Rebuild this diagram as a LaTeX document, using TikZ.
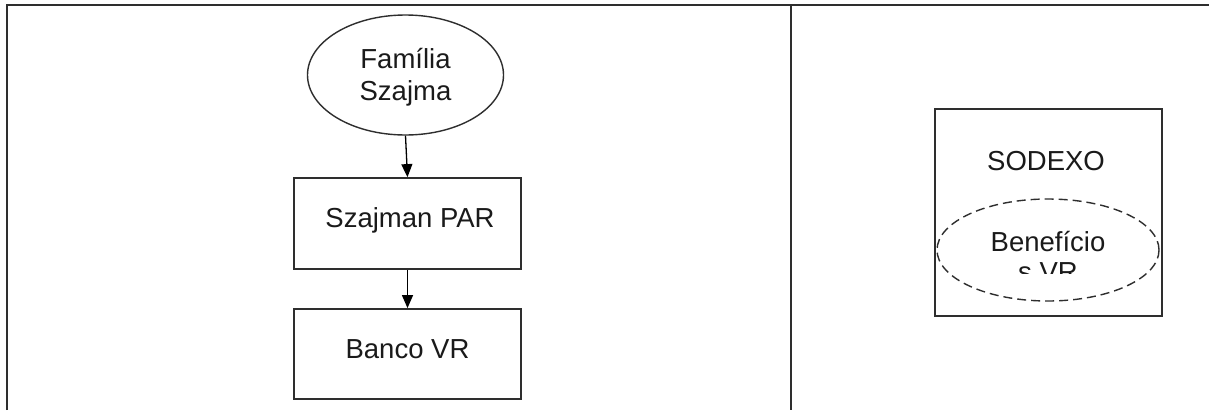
\documentclass[tikz,border=0pt]{standalone}
\usepackage{fontspec}
\setmainfont{Liberation Sans}
\usetikzlibrary{shapes.geometric,arrows.meta}
\definecolor{linec}{HTML}{2E2E2E}
\definecolor{textc}{HTML}{1A1A1A}
\begin{document}
\begin{tikzpicture}[x=1pt,y=-1pt,
  frameline/.style={draw=linec,line width=2.2pt},
  boxnode/.style={draw=linec,line width=1.8pt,rectangle,minimum width=227pt,inner sep=0pt},
  ovalnode/.style={draw=linec,line width=1.4pt,ellipse,inner sep=0pt},
  txt/.style={text=textc,font=\fontsize{27.5}{33}\selectfont,inner sep=0pt},
  flow/.style={draw=black,line width=1.3pt,-{Triangle[length=13pt,width=11pt]}}]
\useasboundingbox (0,0) rectangle (1209,410);
\fill[white] (0,0) rectangle (1209,410);
% frame
\coordinate (tl) at (7,5);
\coordinate (tr) at (1209,5);
\coordinate (bl) at (7,410);
\coordinate (mt) at (791,5);
\coordinate (mb) at (791,410);
\draw[frameline] (bl) -- (tl) -- (tr);
\draw[frameline] (mt) -- (mb);
% left flow
\node[ovalnode,minimum width=196pt,minimum height=120pt] (fam) at (405.5,75) {};
\node[txt,anchor=base] (famt1) at (405.5,68) {Família};
\node[txt,anchor=base] (famt2) at (405.5,100) {Szajma};
\node[boxnode,minimum height=91pt] (par) at (407.5,223.5) {};
\node[txt,anchor=base] (part) at (410,227) {Szajman PAR};
\node[boxnode,minimum height=90pt] (banco) at (407.5,354) {};
\node[txt,anchor=base] (bancot) at (407.5,358) {Banco VR};
\draw[flow] (fam.south) -- (par.north);
\draw[flow] (par.south) -- (banco.north);
% right
\node[boxnode,minimum height=207pt] (sod) at (1048.5,212.5) {};
\node[txt,anchor=base] (sodt) at (1046,170) {SODEXO};
\node[ovalnode,dashed,dash pattern=on 9pt off 5pt,minimum width=222pt,minimum height=102pt] (ben) at (1048,250) {};
\node[txt,anchor=base] (bent1) at (1048,251) {Benefício};
\begin{scope}
\clip (930,255) rectangle (1170,273);
\node[txt,anchor=base] (bent2) at (1048,281) {s VR};
\end{scope}
\end{tikzpicture}
\end{document}
